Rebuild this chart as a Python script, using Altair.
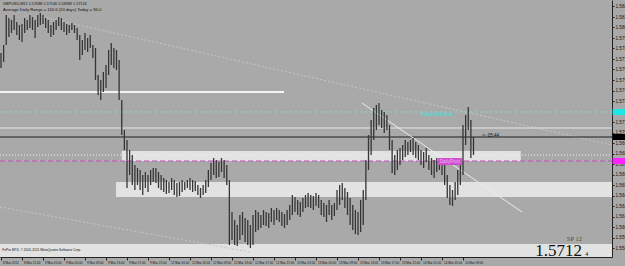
import altair as alt
import pandas as pd

# ---- price data (GBPUSD M15, traced; one entry = 30 min) ----
highs = [1.5783, 1.5791, 1.5821, 1.5818, 1.5816, 1.5821, 1.5814, 1.5811, 1.5812, 1.5818,
         1.5816, 1.5821, 1.5819, 1.5816, 1.5821, 1.5823, 1.5821, 1.5818, 1.5816, 1.5811,
         1.5814, 1.5816, 1.5819, 1.5818, 1.5814, 1.5812, 1.5811, 1.5813, 1.5811, 1.5808,
         1.5801, 1.5796, 1.5803, 1.5798, 1.5801, 1.5791, 1.5788, 1.5761, 1.5756, 1.5764,
         1.5771, 1.5786, 1.5793, 1.5788, 1.5786, 1.5776, 1.5736, 1.5706, 1.5696, 1.5686,
         1.5681, 1.5671, 1.5668, 1.5666, 1.5661, 1.5664, 1.5661, 1.5666, 1.5668, 1.5668,
         1.5664, 1.5661, 1.5658, 1.5656, 1.5654, 1.5658, 1.5656, 1.5653, 1.5654, 1.5656,
         1.5654, 1.5656, 1.5658, 1.5656, 1.5655, 1.5651, 1.5648, 1.5651, 1.5656, 1.5666,
         1.5673, 1.5678, 1.5676, 1.5674, 1.5678, 1.5676, 1.5671, 1.5656, 1.5624, 1.5616,
         1.5611, 1.5621, 1.5624, 1.5618, 1.5616, 1.5611, 1.5621, 1.5626, 1.5624, 1.5621,
         1.5626, 1.5624, 1.5623, 1.5628, 1.5626, 1.5628, 1.5626, 1.5624, 1.5622, 1.5626,
         1.5631, 1.5641, 1.5639, 1.5636, 1.5634, 1.5638, 1.5641, 1.5643, 1.5641, 1.5640,
         1.5643, 1.5641, 1.5636, 1.5633, 1.5631, 1.5636, 1.5631, 1.5633, 1.5646, 1.5651,
         1.5653, 1.5648, 1.5644, 1.5638, 1.5631, 1.5626, 1.5624, 1.5636, 1.5646, 1.5676,
         1.5701, 1.5716, 1.5728, 1.5731, 1.5733, 1.5726, 1.5724, 1.5721, 1.5711, 1.5696,
         1.5681, 1.5686, 1.5688, 1.5691, 1.5696, 1.5694, 1.5696, 1.5698, 1.5694, 1.5691,
         1.5686, 1.5684, 1.5688, 1.5681, 1.5678, 1.5676, 1.5678, 1.5676, 1.5674, 1.5671,
         1.5661, 1.5651, 1.5646, 1.5654, 1.5666, 1.5676, 1.5711, 1.5721, 1.5729, 1.5716,
         1.5699]
lows = [1.5768, 1.5774, 1.5791, 1.5799, 1.5803, 1.5806, 1.5801, 1.5796, 1.5794, 1.5803,
        1.5806, 1.5808, 1.5806, 1.5798, 1.5809, 1.5811, 1.5812, 1.5808, 1.5803, 1.5799,
        1.5801, 1.5806, 1.5810, 1.5806, 1.5804, 1.5801, 1.5803, 1.5806, 1.5803, 1.5796,
        1.5776, 1.5781, 1.5786, 1.5784, 1.5788, 1.5778, 1.5756, 1.5741, 1.5736, 1.5744,
        1.5748, 1.5761, 1.5771, 1.5768, 1.5766, 1.5736, 1.5701, 1.5686, 1.5648, 1.5661,
        1.5651, 1.5646, 1.5651, 1.5646, 1.5641, 1.5648, 1.5644, 1.5651, 1.5654, 1.5653,
        1.5648, 1.5646, 1.5644, 1.5642, 1.5643, 1.5646, 1.5641, 1.5639, 1.5640, 1.5644,
        1.5646, 1.5648, 1.5646, 1.5644, 1.5645, 1.5641, 1.5638, 1.5641, 1.5643, 1.5649,
        1.5656, 1.5661, 1.5658, 1.5659, 1.5664, 1.5658, 1.5651, 1.5591, 1.5596, 1.5591,
        1.5590, 1.5596, 1.5601, 1.5594, 1.5591, 1.5588, 1.5591, 1.5604, 1.5606, 1.5608,
        1.5611, 1.5610, 1.5608, 1.5614, 1.5611, 1.5616, 1.5614, 1.5610, 1.5608, 1.5611,
        1.5616, 1.5621, 1.5624, 1.5621, 1.5619, 1.5624, 1.5628, 1.5629, 1.5628, 1.5626,
        1.5630, 1.5628, 1.5621, 1.5619, 1.5614, 1.5621, 1.5616, 1.5620, 1.5626, 1.5631,
        1.5636, 1.5628, 1.5621, 1.5611, 1.5606, 1.5602, 1.5601, 1.5604, 1.5611, 1.5636,
        1.5666, 1.5681, 1.5696, 1.5706, 1.5711, 1.5708, 1.5703, 1.5706, 1.5686, 1.5663,
        1.5661, 1.5666, 1.5671, 1.5676, 1.5679, 1.5681, 1.5684, 1.5681, 1.5678, 1.5676,
        1.5671, 1.5668, 1.5674, 1.5666, 1.5661, 1.5658, 1.5664, 1.5666, 1.5661, 1.5651,
        1.5638, 1.5631, 1.5630, 1.5636, 1.5641, 1.5651, 1.5661, 1.5691, 1.5706, 1.5678,
        1.5681]

time_labels = ["8 Mar 2012", "8 Mar 21:00", "9 Mar 01:00", "9 Mar 05:00", "9 Mar 09:00",
               "9 Mar 13:00", "9 Mar 17:00", "9 Mar 21:00", "12 Mar 01:00", "12 Mar 05:00",
               "12 Mar 09:00", "12 Mar 13:00", "12 Mar 17:00", "12 Mar 21:00", "13 Mar 01:00",
               "13 Mar 05:00", "13 Mar 09:00", "13 Mar 13:00", "13 Mar 17:00", "13 Mar 21:00",
               "14 Mar 01:00", "14 Mar 05:00", "14 Mar 09:00"]
time_tick_bars = [0, 8, 16, 24, 32, 40, 48, 56, 64, 72, 80, 88, 96, 104, 112, 120,
                  128, 136, 144, 152, 160, 168, 176]
price_ticks = [1.58295, 1.58190, 1.58085, 1.57980, 1.57875, 1.57770, 1.57665, 1.57560,
               1.57455, 1.57350, 1.57245, 1.57140, 1.57035, 1.56930, 1.56825, 1.56720,
               1.56615, 1.56510, 1.56405, 1.56300, 1.56195, 1.56090, 1.55985, 1.55880]

# levels
weekly_pivot = 1.5724
daily_pivot = 1.5675
bid_price = 1.5699
white_level = 1.5744
light_level = 1.5708
dotted_level = 1.5681

X_DOM = [-0.38, 232.76]
Y_DOM = [1.5579, 1.5836]

bars = pd.DataFrame({"bar": list(range(len(highs))), "high": highs, "low": lows})

xs = alt.Scale(domain=X_DOM, nice=False, zero=False)
ys = alt.Scale(domain=Y_DOM, nice=False, zero=False)

label_arr = "[" + ",".join("'" + s + "'" for s in time_labels) + "]"

XA = alt.Axis(values=time_tick_bars, labelExpr=label_arr + "[round(datum.value/8)]",
              labelFontSize=3.1, labelFont="Liberation Sans", labelColor="#111",
              labelAlign="left", labelOffset=1.5, labelPadding=1.5, labelOverlap=False,
              labelFlush=False, tickSize=3, tickColor="#222", domainColor="#222",
              grid=False, title=None)
YA = alt.Axis(orient="right", values=price_ticks, format=".5f",
              labelFontSize=4.6, labelFont="Liberation Sans", labelColor="#111",
              labelPadding=1, labelOverlap=False, labelFlush=False, tickSize=2,
              tickColor="#222", domainColor="#222", grid=False, title=None)


def X(field):
    return alt.X(field, scale=xs, axis=XA, title=None)


def Y(field):
    return alt.Y(field, scale=ys, axis=YA, title=None)


# zones
zones = pd.DataFrame({
    "x1": [46.0, 43.8, X_DOM[0]],
    "x2": [198.0, X_DOM[1], X_DOM[1]],
    "y1": [1.5685, 1.5654, 1.5592],
    "y2": [1.5675, 1.5639, Y_DOM[0]],
})
zone_layer = alt.Chart(zones).mark_rect(color="#e2e2e2").encode(
    x=X("x1:Q"), x2="x2:Q", y=Y("y1:Q"), y2="y2:Q")


def hline(level, color, width=1, dash=None, x_from=X_DOM[0], x_to=X_DOM[1]):
    df = pd.DataFrame({"x1": [x_from], "x2": [x_to], "y": [level]})
    kw = dict(color=color, strokeWidth=width)
    if dash:
        kw["strokeDash"] = dash
    return alt.Chart(df).mark_rule(**kw).encode(x=X("x1:Q"), x2="x2:Q", y=Y("y:Q"))


lines = [
    hline(white_level, "#f4f4f4", 2, x_to=107.8),
    hline(weekly_pivot, "#7fdcdc", 1, [2, 3]),
    hline(light_level, "#e6e6e6", 1),
    hline(bid_price, "#1e1e1e", 1),
    hline(dotted_level, "#f2f2f2", 1, [1, 2]),
    hline(daily_pivot, "#c24ec2", 1, [5, 3]),
]

diag = pd.DataFrame({
    "x1": [16.0, X_DOM[0]], "x2": [232.7, 95.0],
    "y1": [1.5819, 1.5629], "y2": [1.5691, 1.5584],
})
diag_layer = alt.Chart(diag).mark_rule(color="#c6c6c6", strokeWidth=1, strokeDash=[2, 2]).encode(
    x=X("x1:Q"), x2="x2:Q", y=Y("y1:Q"), y2="y2:Q")

trend = pd.DataFrame({"x1": [137.5], "x2": [198.5], "y1": [1.5733], "y2": [1.5624]})
trend_layer = alt.Chart(trend).mark_rule(color="#ececec", strokeWidth=1).encode(
    x=X("x1:Q"), x2="x2:Q", y=Y("y1:Q"), y2="y2:Q")

candles = alt.Chart(bars).mark_rule(color="#353535", strokeWidth=1.3).encode(
    x=X("bar:Q"), y=Y("low:Q"), y2="high:Q")

# DailyPivot label box
dp_box = pd.DataFrame({"x1": [166.5], "x2": [175.6], "y1": [1.5678], "y2": [1.5671]})
dp_layer = alt.Chart(dp_box).mark_rect(color="#d04fd0").encode(
    x=X("x1:Q"), x2="x2:Q", y=Y("y1:Q"), y2="y2:Q")

# price-axis highlight boxes
hl = pd.DataFrame({
    "x1": [233.0, 233.0, 233.0], "x2": [240.0, 240.0, 240.0],
    "y1": [weekly_pivot + 0.0003, bid_price + 0.0003, daily_pivot + 0.0003],
    "y2": [weekly_pivot - 0.0003, bid_price - 0.0003, daily_pivot - 0.0003],
    "c": ["#22e6e6", "#000000", "#ff22ff"],
})
hl_layer = alt.Chart(hl).mark_rect(clip=False).encode(
    x=X("x1:Q"), x2="x2:Q", y=Y("y1:Q"), y2="y2:Q",
    color=alt.Color("c:N", scale=None))


def label(text, x, y, size, color="#111", align="left", font="Liberation Sans",
          baseline="middle"):
    df = pd.DataFrame({"x": [x], "y": [y], "t": [text]})
    return alt.Chart(df).mark_text(fontSize=size, color=color, align=align, font=font,
                                   baseline=baseline, clip=False).encode(
        x=X("x:Q"), y=Y("y:Q"), text="t:N")


texts = [
    label("GBPUSD,M15  1.57088 1.57140 1.56983 1.57124", 0.8, 1.5832, 3.8),
    label("Average Daily Range = 116.6 (20 days)    Today = 94.0", 0.8, 1.5826, 4.2),
    label("FxPro MT4, \u00a9 2001-2011 MetaQuotes Software Corp.", 0.5, 1.5586, 3.3),
    label("WeeklyPivot", 166.0, 1.57225, 5.8, color="#3fe0e0", align="center"),
    label("DailyPivot", 171.0, 1.56745, 4.6, color="#f4b0f4", align="center"),
    label("<- 05:44", 183.3, 1.5700, 4.6),
    label("SP 12", 221.3, 1.55955, 6.5, color="#4a4a4a", align="right",
          font="Liberation Serif", baseline="alphabetic"),
    label("1.5712", 221.3, 1.5580, 17, color="#111", align="right",
          font="Liberation Serif", baseline="alphabetic"),
    label("4", 222.6, 1.55805, 6, color="#111", align="left",
          font="Liberation Serif", baseline="alphabetic"),
]

chart = alt.layer(zone_layer, diag_layer, *lines, trend_layer, candles, dp_layer, hl_layer,
                  *texts).properties(
    width=612, height=257,
    autosize=alt.AutoSizeParams(type="none"),
    padding={"left": 0, "top": 0, "right": 13, "bottom": 9},
    background="#a9a9a9",
).configure_view(stroke=None)

chart.save("out.html", embed_options={"renderer": "svg", "actions": False})
